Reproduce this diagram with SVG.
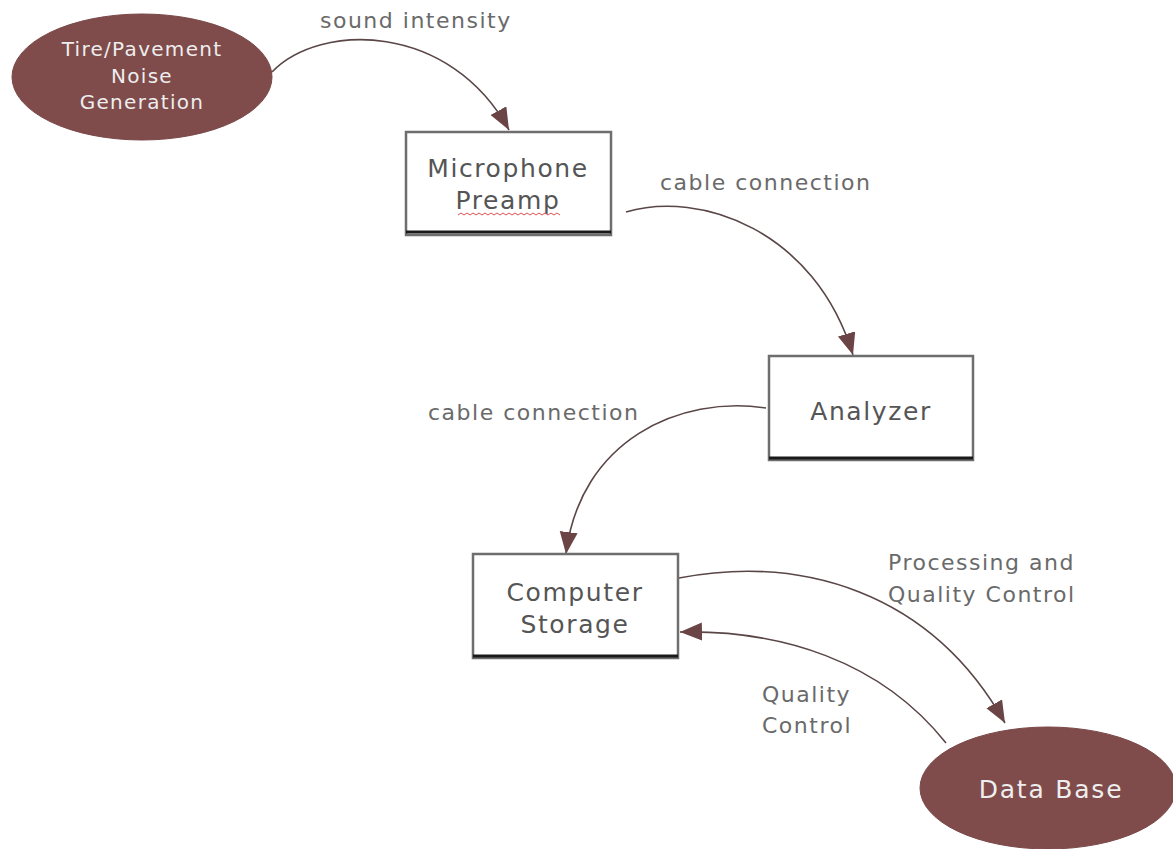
<svg xmlns="http://www.w3.org/2000/svg" width="1173" height="849" viewBox="0 0 1173 849">
<style>
.ell{fill:#7f4b4b;stroke:#7a4848;stroke-width:1}
.etxt{fill:#eeeeee;font-family:"DejaVu Sans","Liberation Sans",sans-serif;text-anchor:middle}
.box{fill:#ffffff;stroke:#6e6e6e;stroke-width:2.5}
.bline{stroke:#1a1a1a;stroke-width:3}
.btxt{fill:#555555;font-family:"DejaVu Sans","Liberation Sans",sans-serif;font-size:25px;text-anchor:middle;letter-spacing:1.6px}
.lbl{fill:#6a6a6a;font-family:"DejaVu Sans","Liberation Sans",sans-serif;font-size:22px;letter-spacing:1.5px}
.conn{fill:none;stroke:#5a4646;stroke-width:1.6}
</style>
<defs>
<marker id="ah" markerUnits="userSpaceOnUse" markerWidth="24" markerHeight="20" refX="22" refY="9" orient="auto">
<path d="M0,0 L22,9 L0,18 Z" fill="#6b4545"/>
</marker>
</defs>
<rect width="1173" height="849" fill="#ffffff"/>
<g id="connectors">
<path class="conn" d="M272,72 C320,22 450,22 509,130" marker-end="url(#ah)"/>
<path class="conn" d="M626,212 C700,190 815,230 853,355" marker-end="url(#ah)"/>
<path class="conn" d="M766,408 C680,395 580,440 566,554" marker-end="url(#ah)"/>
<path class="conn" d="M679,578 C800,555 930,590 1005,723" marker-end="url(#ah)"/>
<path class="conn" d="M946,743 C880,660 780,630 680,632" marker-end="url(#ah)"/>
</g>
<g id="labels">
<text class="lbl" x="320" y="28">sound intensity</text>
<text class="lbl" x="660" y="190">cable connection</text>
<text class="lbl" x="428" y="420">cable connection</text>
<text class="lbl" x="888" y="570">Processing and</text>
<text class="lbl" x="888" y="602">Quality Control</text>
<text class="lbl" x="762" y="702">Quality</text>
<text class="lbl" x="762" y="733">Control</text>
</g>
<g id="tire">
<ellipse class="ell" cx="142" cy="77" rx="130" ry="63"/>
<text class="etxt" font-size="20" x="142" y="56" style="letter-spacing:1.3px">Tire/Pavement</text>
<text class="etxt" font-size="20" x="142" y="83" style="letter-spacing:1.3px">Noise</text>
<text class="etxt" font-size="20" x="142" y="109" style="letter-spacing:1.3px">Generation</text>
</g>
<g id="microphone">
<rect class="box" x="406" y="132" width="205" height="103"/>
<line class="bline" x1="406" y1="232" x2="611" y2="232"/>
<text class="btxt" x="508" y="177">Microphone</text>
<text class="btxt" x="508" y="209">Preamp</text>
<path d="M458,215 l3,-2 l3,2 l3,-2 l3,2 l3,-2 l3,2 l3,-2 l3,2 l3,-2 l3,2 l3,-2 l3,2 l3,-2 l3,2 l3,-2 l3,2 l3,-2 l3,2 l3,-2 l3,2 l3,-2 l3,2 l3,-2 l3,2 l3,-2 l3,2 l3,-2 l3,2 l3,-2 l3,2 l3,-2 l3,2 l3,-2 l3,2" fill="none" stroke="#e05050" stroke-width="1"/>
</g>
<g id="analyzer">
<rect class="box" x="769" y="356" width="204" height="104"/>
<line class="bline" x1="769" y1="458" x2="973" y2="458"/>
<text class="btxt" x="871" y="420">Analyzer</text>
</g>
<g id="computer">
<rect class="box" x="473" y="554" width="205" height="104"/>
<line class="bline" x1="473" y1="656" x2="678" y2="656"/>
<text class="btxt" x="575" y="601">Computer</text>
<text class="btxt" x="575" y="633">Storage</text>
</g>
<g id="database">
<ellipse class="ell" cx="1048" cy="788" rx="128" ry="61"/>
<text class="etxt" font-size="25" x="1051" y="798" style="letter-spacing:1.8px">Data Base</text>
</g>
</svg>
